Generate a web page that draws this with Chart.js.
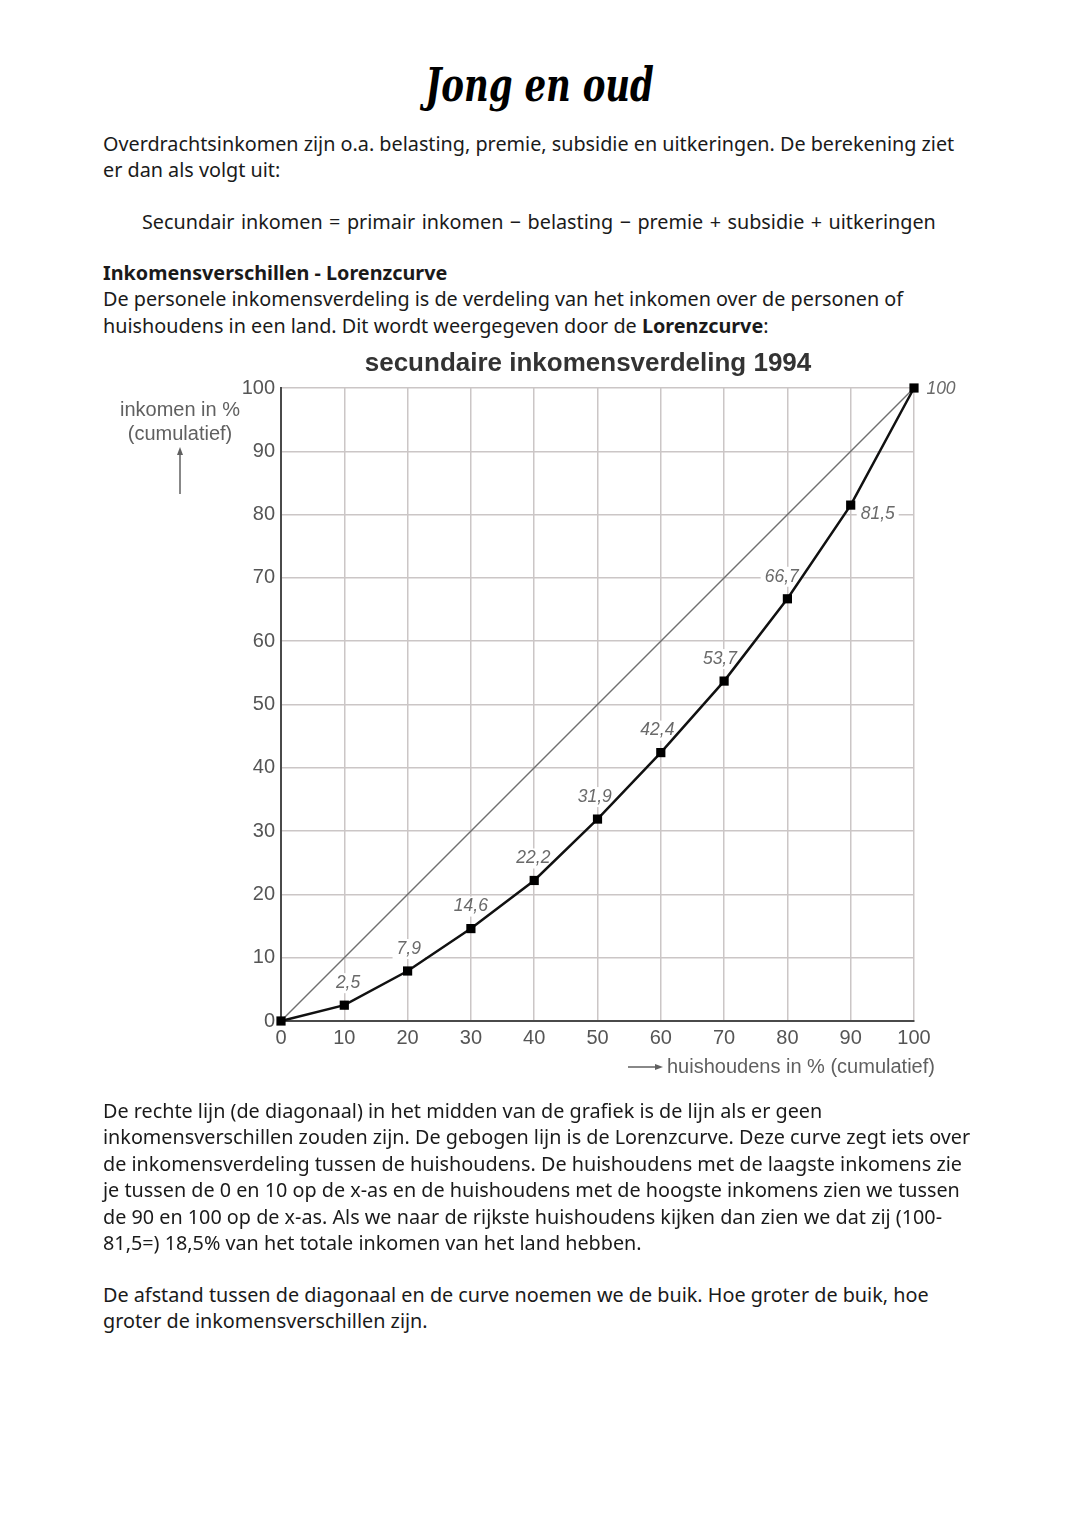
<!DOCTYPE html>
<html lang="nl">
<head>
    <meta charset="UTF-8">
    <title>Jong en oud - Lorenzcurve</title>
    <script src="https://cdn.jsdelivr.net/npm/chart.js"></script>
    <style>
        body {
            margin: 0;
            width: 1080px;
            height: 1527px;
            background: #ffffff;
            position: relative;
            font-family: "Noto Sans", Lato, sans-serif;
            color: #1a1a1a;
        }
        .t {
            position: absolute;
            left: 103px;
            font-size: 19.8px;
            line-height: 26.4px;
            white-space: nowrap;
        }
        h1 {
            position: absolute;
            top: 58px;
            left: 0;
            width: 1080px;
            margin: 0;
            text-align: center;
            font-family: "DejaVu Serif", serif;
            font-style: italic;
            font-weight: bold;
            font-size: 46px;
            color: #000;
        }
        h1 span {
            display: inline-block;
            transform: scaleX(0.74);
        }
        #wrap {
            position: absolute;
            left: 0;
            top: 340px;
        }
    </style>
</head>
<body>
    <h1><span>Jong en oud</span></h1>
    <div class="t" style="top:131px">Overdrachtsinkomen zijn o.a. belasting, premie, subsidie en uitkeringen. De berekening ziet<br>er dan als volgt uit:</div>
    <div class="t" style="top:209px;left:142px;word-spacing:1.3px">Secundair inkomen = primair inkomen − belasting − premie + subsidie + uitkeringen</div>
    <div class="t" style="top:260px"><b>Inkomensverschillen - Lorenzcurve</b><br>De personele inkomensverdeling is de verdeling van het inkomen over de personen of<br>huishoudens in een land. Dit wordt weergegeven door de <b>Lorenzcurve</b>:</div>

    <div id="wrap"><canvas id="lorenz" width="1080" height="760"></canvas></div>

    <div class="t" style="top:1098px">De rechte lijn (de diagonaal) in het midden van de grafiek is de lijn als er geen<br>inkomensverschillen zouden zijn. De gebogen lijn is de Lorenzcurve. Deze curve zegt iets over<br>de inkomensverdeling tussen de huishoudens. De huishoudens met de laagste inkomens zie<br>je tussen de 0 en 10 op de x-as en de huishoudens met de hoogste inkomens zien we tussen<br>de 90 en 100 op de x-as. Als we naar de rijkste huishoudens kijken dan zien we dat zij (100-<br>81,5=) 18,5% van het totale inkomen van het land hebben.</div>
    <div class="t" style="top:1282px">De afstand tussen de diagonaal en de curve noemen we de buik. Hoe groter de buik, hoe<br>groter de inkomensverschillen zijn.</div>

    <script>
        // cumulatieve percentages huishoudens (x) en inkomen (y)
        const households = [0, 10, 20, 30, 40, 50, 60, 70, 80, 90, 100];
        const income = [0, 2.5, 7.9, 14.6, 22.2, 31.9, 42.4, 53.7, 66.7, 81.5, 100];
        const equalityX = [0, 100];
        const equalityY = [0, 100];
        const chartTitle = 'secundaire inkomensverdeling 1994';

        const grey = '#555555';
        const labelFont = 'italic 17.5px "Liberation Sans", Arial, sans-serif';

        // waar komt het label van punt i (boven het punt, de laatste twee rechts)
        function labelPos(meta, i) {
            const pt = meta.data[i];
            const last = households.length - 1;
            if (i === last) return { x: pt.x + 27, y: pt.y + 1 };
            if (i === last - 1) return { x: pt.x + 27, y: pt.y + 9 };
            const prev = meta.data[i - 1];
            const slope = (prev.y - pt.y) / (pt.x - prev.x);
            return { x: pt.x + 6 - 9 * slope, y: pt.y - 22 };
        }

        // labels bij de punten: wit blokje onder de lijnen, tekst erboven
        const pointLabels = {
            id: 'pointLabels',
            beforeDatasetsDraw(chart) {
                const ctx = chart.ctx;
                const meta = chart.getDatasetMeta(0);
                ctx.save();
                ctx.font = labelFont;
                ctx.fillStyle = '#ffffff';
                for (let i = 1; i < households.length; i++) {
                    const txt = String(income[i]).replace('.', ',');
                    const p = labelPos(meta, i);
                    const w = ctx.measureText(txt).width;
                    ctx.fillRect(p.x - w / 2 - 4, p.y - 10, w + 8, 20);
                }
                ctx.restore();
            },
            afterDatasetsDraw(chart) {
                const ctx = chart.ctx;
                const meta = chart.getDatasetMeta(0);
                ctx.save();
                ctx.font = labelFont;
                ctx.textAlign = 'center';
                ctx.textBaseline = 'middle';
                ctx.fillStyle = '#6a6a6a';
                for (let i = 1; i < households.length; i++) {
                    const txt = String(income[i]).replace('.', ',');
                    const p = labelPos(meta, i);
                    ctx.fillText(txt, p.x, p.y);
                }
                ctx.restore();
            }
        };

        // titel en aslabels met pijltjes
        const axisText = {
            id: 'axisText',
            afterDraw(chart) {
                const ctx = chart.ctx;
                const a = chart.chartArea;
                ctx.save();
                ctx.fillStyle = '#333';
                ctx.font = 'bold 26px "Liberation Sans", Arial, sans-serif';
                ctx.textAlign = 'center';
                ctx.textBaseline = 'middle';
                ctx.fillText(chartTitle, 588, a.top - 24);

                ctx.fillStyle = '#606060';
                ctx.font = '20px "Liberation Sans", Arial, sans-serif';
                ctx.fillText('inkomen in %', 180, a.top + 22);
                ctx.fillText('(cumulatief)', 180, a.top + 46);
                ctx.strokeStyle = '#606060';
                ctx.lineWidth = 1.5;
                ctx.beginPath();
                ctx.moveTo(180, a.top + 106);
                ctx.lineTo(180, a.top + 63);
                ctx.stroke();
                ctx.beginPath();
                ctx.moveTo(180, a.top + 59);
                ctx.lineTo(177, a.top + 67);
                ctx.lineTo(183, a.top + 67);
                ctx.fill();

                ctx.textAlign = 'left';
                ctx.fillText('huishoudens in % (cumulatief)', 667, a.bottom + 46);
                ctx.beginPath();
                ctx.moveTo(628, a.bottom + 46);
                ctx.lineTo(656, a.bottom + 46);
                ctx.stroke();
                ctx.beginPath();
                ctx.moveTo(663, a.bottom + 46);
                ctx.lineTo(655, a.bottom + 43);
                ctx.lineTo(655, a.bottom + 49);
                ctx.fill();
                ctx.restore();
            }
        };

        const tickFont = { family: '"Liberation Sans", Arial, sans-serif', size: 20 };

        new Chart(document.getElementById('lorenz'), {
            type: 'line',
            data: {
                datasets: [{
                    label: 'Lorenzcurve',
                    data: households.map((h, i) => ({ x: h, y: income[i] })),
                    borderColor: '#111',
                    borderWidth: 2.5,
                    pointStyle: 'rect',
                    pointRadius: 6.5,
                    pointBackgroundColor: '#000',
                    pointBorderWidth: 0,
                    tension: 0,
                    clip: false
                }, {
                    label: 'Diagonaal',
                    data: equalityX.map((h, i) => ({ x: h, y: equalityY[i] })),
                    borderColor: '#707070',
                    borderWidth: 1.5,
                    pointRadius: 0,
                    clip: false
                }]
            },
            options: {
                responsive: false,
                animation: false,
                layout: { padding: { left: 231, right: 166, top: 48, bottom: 39 } },
                plugins: {
                    legend: { display: false },
                    tooltip: { enabled: false }
                },
                scales: {
                    x: {
                        type: 'linear',
                        min: 0,
                        max: 100,
                        afterFit(scale) { scale.height = 40; },
                        ticks: { stepSize: 10, color: grey, font: tickFont, padding: 5 },
                        grid: { color: '#cbc6c6', lineWidth: 1.5, drawTicks: false },
                        border: { color: '#4a4a4a', width: 2 }
                    },
                    y: {
                        type: 'linear',
                        min: 0,
                        max: 100,
                        afterFit(scale) { scale.width = 50; },
                        ticks: { stepSize: 10, color: grey, font: tickFont, padding: 6 },
                        grid: { color: '#cbc6c6', lineWidth: 1.5, drawTicks: false },
                        border: { color: '#4a4a4a', width: 2 }
                    }
                }
            },
            plugins: [pointLabels, axisText]
        });
    </script>
</body>
</html>
